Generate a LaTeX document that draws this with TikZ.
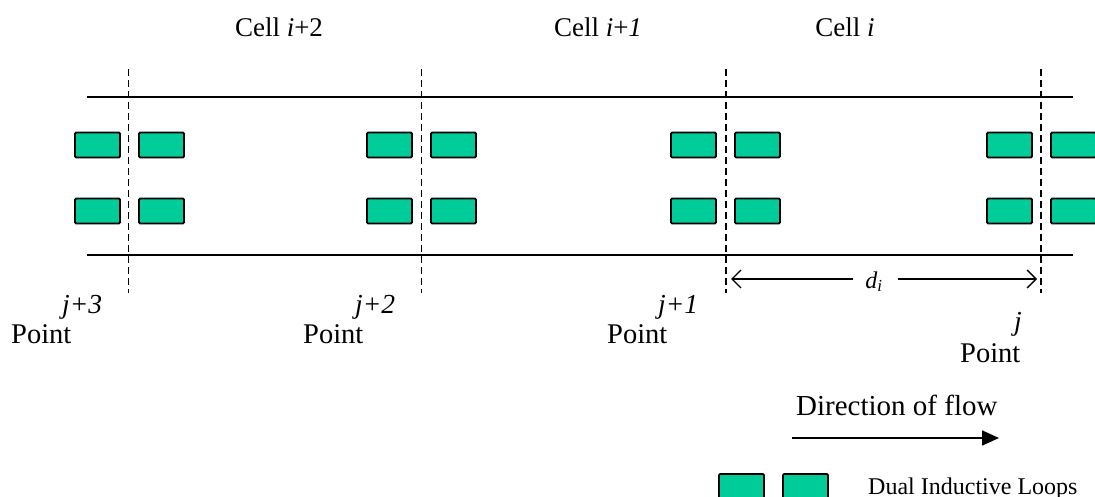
\documentclass[tikz,border=0pt]{standalone}
\usepackage{fontspec}
\setmainfont{Liberation Serif}
\usetikzlibrary{arrows.meta}
\definecolor{loopgreen}{RGB}{0,204,153}
\tikzset{
  loopbox/.style={draw=black, line width=1.8pt, fill=loopgreen, rounded corners=1.2pt,
    minimum width=45pt, minimum height=25pt, inner sep=0pt, outer sep=0pt},
  road/.style={line width=1.6pt},
  border/.style={line width=1.4pt, dash pattern=on 7pt off 4pt},
  lbl/.style={inner sep=0pt, anchor=base, font=\fontsize{27}{30}\selectfont},
  ptlbl/.style={inner sep=0pt, anchor=base west, font=\fontsize{28.5}{30}\selectfont},
  jlbl/.style={inner sep=0pt, anchor=base west, font=\fontsize{27.5}{30}\selectfont\itshape},
  span/.style={line width=1.3pt, -{Straight Barb[length=9pt,width=18pt,line width=1.3pt]}},
  flow/.style={line width=1.6pt, -{Triangle[length=17pt,width=15pt]}}
}
\begin{document}
\begin{tikzpicture}[x=1pt,y=-1pt]
\useasboundingbox (0,0) rectangle (1095,497);
\clip (0,0) rectangle (1095,497);

% road edges
\draw[road] (87,97) coordinate (rt0) -- (1073,97) coordinate (rt1);
\draw[road] (87,255) coordinate (rb0) -- (1073,255) coordinate (rb1);

% cell boundaries
\foreach \n/\x in {a/128.5,b/421.5,c/726,d/1041}{
  \coordinate (top\n) at (\x,69);
  \coordinate (bot\n) at (\x,293);
  \draw[border] (top\n) -- (bot\n);
}

% detector pairs at each boundary
\foreach \n/\x in {a/97.5,b/389.5,c/693.5,d/1009.5}{
  \node[loopbox] (ul\n) at (\x,145) {};
  \node[loopbox] (ur\n) at (\x+64,145) {};
  \node[loopbox] (ll\n) at (\x,211) {};
  \node[loopbox] (lr\n) at (\x+64,211) {};
}

% cell labels
\node[lbl] (cell2) at (279,37) {Cell \textit{i}+2};
\node[lbl] (cell1) at (598,37) {Cell \textit{i}+\textit{1}};
\node[lbl] (cell0) at (845,37) {Cell \textit{i}};

% point labels
\node[jlbl] (j3) at (62,313) {j+3};
\node[ptlbl] (p3) at (11,343) {Point};
\node[jlbl] (j2) at (355,313) {j+2};
\node[ptlbl] (p2) at (303,343) {Point};
\node[jlbl] (j1) at (658,313) {j+1};
\node[ptlbl] (p1) at (607,343) {Point};
\node[jlbl] (j0) at (1014,330) {j};
\node[ptlbl] (p0) at (960,362) {Point};

% cell length
\node[inner sep=0pt, anchor=base, font=\fontsize{24}{26}\selectfont\itshape] (di) at (874,288) {d\textsubscript{i}};
\coordinate (dl) at (731,279);
\coordinate (dr) at (1037,279);
\draw[span] (853,279) -- (dl);
\draw[span] (898,279) -- (dr);

% flow direction
\node[lbl, anchor=base west, font=\fontsize{29}{32}\selectfont] (flowtxt) at (796,415) {Direction of flow};
\coordinate (f0) at (792,438);
\coordinate (f1) at (999,438);
\draw[flow] (f0) -- (f1);

% legend
\node[loopbox] (leg1) at (741.5,486.5) {};
\node[loopbox] (leg2) at (805.5,486.5) {};
\node[inner sep=0pt, anchor=base west, font=\fontsize{24}{26}\selectfont] (legtxt) at (868,494) {Dual Inductive Loops};
\end{tikzpicture}
\end{document}
